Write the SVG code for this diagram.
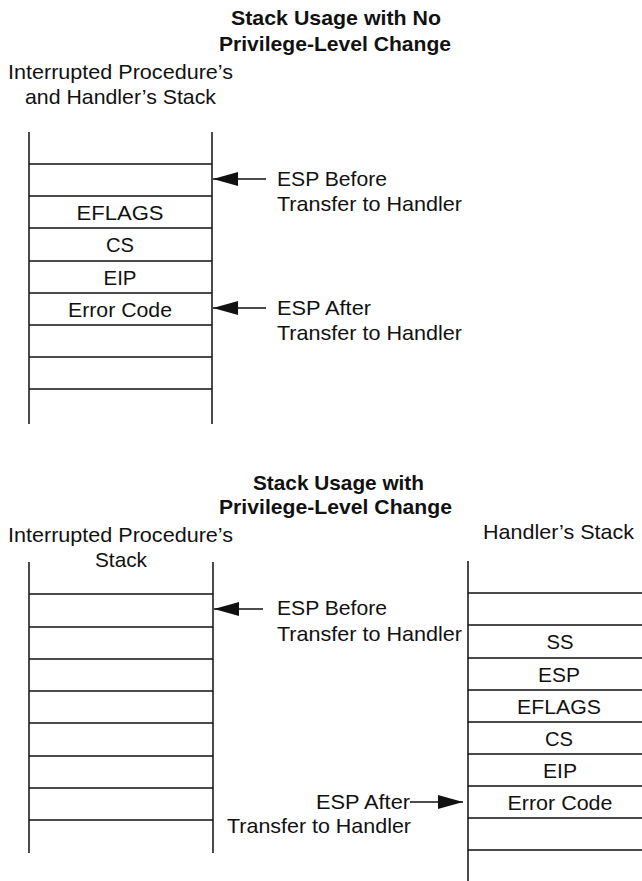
<svg xmlns="http://www.w3.org/2000/svg" width="642" height="881" viewBox="0 0 642 881">
<style>
.t{font-family:"Liberation Sans",Arial,sans-serif;fill:#111}
.title{font-size:21px;font-weight:bold}
.hdr{font-size:21px}
.cell{font-size:20.5px}
.lbl{font-size:21px}
.ln{stroke:#111;stroke-width:1.5;fill:none}
.ar{stroke:#111;stroke-width:1.5;fill:none;marker-end:url(#ah)}
</style>
<defs>
<marker id="ah" markerUnits="userSpaceOnUse" markerWidth="26" markerHeight="16" refX="25" refY="7" orient="auto">
<path d="M0,0 L25,7 L0,14 z" fill="#111"/>
</marker>
</defs>
<rect width="642" height="881" fill="#fff"/>

<g id="title-top">
<text class="t title" x="231" y="25" textLength="210" lengthAdjust="spacingAndGlyphs">Stack Usage with No</text>
<text class="t title" x="219" y="51" textLength="232" lengthAdjust="spacingAndGlyphs">Privilege-Level Change</text>
</g>

<g id="stack-top">
<text class="t hdr" x="8" y="79" textLength="225" lengthAdjust="spacingAndGlyphs">Interrupted Procedure’s</text>
<text class="t hdr" x="25" y="104" textLength="191" lengthAdjust="spacingAndGlyphs">and Handler’s Stack</text>
<path class="ln" d="M29,132 V424 M212,132 V424 M29,164 H212 M29,196 H212 M29,228 H212 M29,261 H212 M29,293 H212 M29,325 H212 M29,357 H212 M29,389 H212"/>
<text class="t cell" x="120" y="219.5" text-anchor="middle" textLength="87" lengthAdjust="spacingAndGlyphs">EFLAGS</text>
<text class="t cell" x="120" y="252" text-anchor="middle" textLength="28" lengthAdjust="spacingAndGlyphs">CS</text>
<text class="t cell" x="120" y="284.5" text-anchor="middle" textLength="33" lengthAdjust="spacingAndGlyphs">EIP</text>
<text class="t cell" x="120" y="316.5" text-anchor="middle" textLength="104" lengthAdjust="spacingAndGlyphs">Error Code</text>
</g>

<g id="label-top-before">
<text class="t lbl" x="277" y="186" textLength="110" lengthAdjust="spacingAndGlyphs">ESP Before</text>
<text class="t lbl" x="277" y="211" textLength="185" lengthAdjust="spacingAndGlyphs">Transfer to Handler</text>
</g>
<g id="label-top-after">
<text class="t lbl" x="277" y="315" textLength="94" lengthAdjust="spacingAndGlyphs">ESP After</text>
<text class="t lbl" x="277" y="340" textLength="185" lengthAdjust="spacingAndGlyphs">Transfer to Handler</text>
</g>

<g id="title-bottom">
<text class="t title" x="253" y="490" textLength="171" lengthAdjust="spacingAndGlyphs">Stack Usage with</text>
<text class="t title" x="219" y="514" textLength="233" lengthAdjust="spacingAndGlyphs">Privilege-Level Change</text>
</g>

<g id="stack-interrupted">
<text class="t hdr" x="8" y="542" textLength="225" lengthAdjust="spacingAndGlyphs">Interrupted Procedure’s</text>
<text class="t hdr" x="121" y="567" text-anchor="middle" textLength="52" lengthAdjust="spacingAndGlyphs">Stack</text>
<path class="ln" d="M29,562 V853 M213,562 V853 M29,594 H213 M29,627 H213 M29,659 H213 M29,691 H213 M29,723 H213 M29,756 H213 M29,788 H213 M29,820 H213"/>
</g>

<g id="stack-handler">
<text class="t hdr" x="483" y="539" textLength="151" lengthAdjust="spacingAndGlyphs">Handler’s Stack</text>
<path class="ln" d="M468,561 V881 M468,593 H642 M468,625 H642 M468,658 H642 M468,690 H642 M468,722 H642 M468,754 H642 M468,786 H642 M468,818 H642 M468,850 H642"/>
<text class="t cell" x="560" y="649" text-anchor="middle" textLength="27" lengthAdjust="spacingAndGlyphs">SS</text>
<text class="t cell" x="559" y="681.5" text-anchor="middle" textLength="42" lengthAdjust="spacingAndGlyphs">ESP</text>
<text class="t cell" x="559" y="713.5" text-anchor="middle" textLength="84" lengthAdjust="spacingAndGlyphs">EFLAGS</text>
<text class="t cell" x="559" y="745.5" text-anchor="middle" textLength="28" lengthAdjust="spacingAndGlyphs">CS</text>
<text class="t cell" x="560" y="777.5" text-anchor="middle" textLength="34" lengthAdjust="spacingAndGlyphs">EIP</text>
<text class="t cell" x="560" y="809.5" text-anchor="middle" textLength="105" lengthAdjust="spacingAndGlyphs">Error Code</text>
</g>

<g id="label-bottom-before">
<text class="t lbl" x="277" y="615" textLength="110" lengthAdjust="spacingAndGlyphs">ESP Before</text>
<text class="t lbl" x="277" y="641" textLength="185" lengthAdjust="spacingAndGlyphs">Transfer to Handler</text>
</g>
<g id="label-bottom-after">
<text class="t lbl" x="410" y="809" text-anchor="end" textLength="94" lengthAdjust="spacingAndGlyphs">ESP After</text>
<text class="t lbl" x="411" y="833" text-anchor="end" textLength="184" lengthAdjust="spacingAndGlyphs">Transfer to Handler</text>
</g>

<g id="connectors">
<line class="ar" x1="266" y1="179" x2="213" y2="179"/>
<line class="ar" x1="266" y1="308" x2="213" y2="308"/>
<line class="ar" x1="263" y1="609" x2="214" y2="609"/>
<line class="ar" x1="410" y1="802" x2="463" y2="802"/>
</g>
</svg>
